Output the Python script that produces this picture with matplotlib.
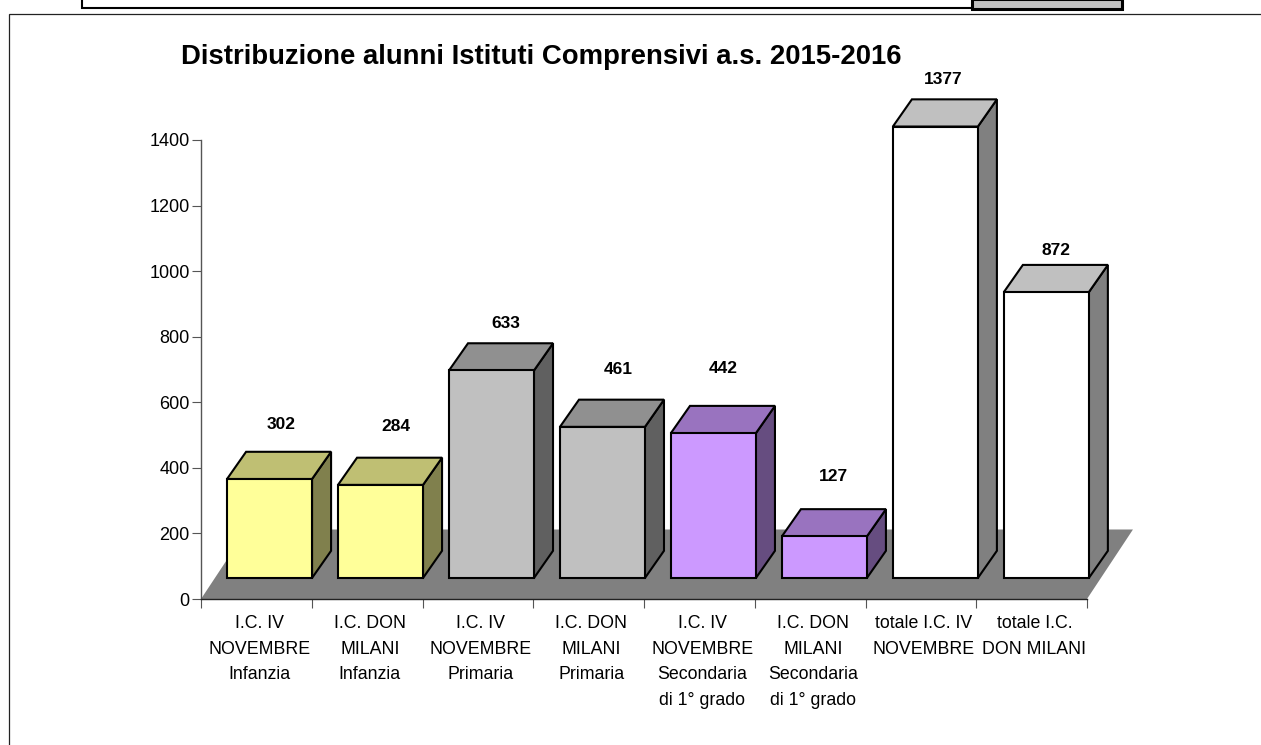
# distribuzione alunni - istogramma finto 3D
import matplotlib.pyplot as plt
from matplotlib.lines import Line2D
from matplotlib.patches import Rectangle

plt.rcParams["font.family"] = ["Liberation Sans", "DejaVu Sans"]

categorie = ["I.C. IV\nNOVEMBRE\nInfanzia", "I.C. DON\nMILANI\nInfanzia",
             "I.C. IV\nNOVEMBRE\nPrimaria", "I.C. DON\nMILANI\nPrimaria",
             "I.C. IV\nNOVEMBRE\nSecondaria\ndi 1° grado",
             "I.C. DON\nMILANI\nSecondaria\ndi 1° grado",
             "totale I.C. IV\nNOVEMBRE", "totale I.C.\nDON MILANI"]
alunni = [302, 284, 633, 461, 442, 127, 1377, 872]
tick_y = [0, 200, 400, 600, 800, 1000, 1200, 1400]

# colori fronte / sopra / lato
fronte = ["#FFFF99", "#FFFF99", "#C0C0C0", "#C0C0C0", "#CC99FF", "#CC99FF", "#FFFFFF", "#FFFFFF"]
sopra = ["#BFBF73", "#BFBF73", "#909090", "#909090", "#9973BF", "#9973BF", "#C0C0C0", "#C0C0C0"]
lato = ["#80804D", "#80804D", "#606060", "#606060", "#664D80", "#664D80", "#808080", "#808080"]
# le etichette nell'originale sono spostate a mano (punti sopra la barra)
etichette_off = [(-5, 20), (-2.7, 22.8), (-3.2, 14.5), (-2.2, 21.6),
                 (-6.8, 27), (-7.2, 23.2), (-7.9, 14.5), (-6.7, 10.3)]

W, H = 1261, 745
fig = plt.figure(figsize=(W / 100, H / 100), dpi=100)
ax = fig.add_axes([201 / W, (H - 599) / H, 886 / W, 459 / H])
ax.set_xlim(0, len(alunni))
ax.set_ylim(0, 1400)

base = 64
margine = 0.235
larg = 0.7675
passo = 1.002
dx, dy = 0.172, 83

# pavimento
ax.fill([0, 8, 8.415, 0.415], [0, 0, 212, 212], color="#808080", lw=0, clip_on=False, zorder=1)

for i, v in enumerate(alunni):
    x0 = i * passo + margine
    x1 = x0 + larg
    y1 = base + v
    stile = dict(edgecolor="black", lw=1.5, joinstyle="miter", clip_on=False, zorder=3 + i)
    ax.fill([x1, x1 + dx, x1 + dx, x1], [base, base + dy, y1 + dy, y1], facecolor=lato[i], **stile)
    ax.fill([x0, x1, x1 + dx, x0 + dx], [y1, y1, y1 + dy, y1 + dy], facecolor=sopra[i], **stile)
    ax.fill([x0, x1, x1, x0], [base, base, y1, y1], facecolor=fronte[i], **stile)
    ax.annotate(str(v), (x0 + larg / 2 + dx, y1 + dy), xytext=etichette_off[i],
                textcoords="offset points", ha="center", va="center",
                fontsize=12.5, fontweight="bold", zorder=20, annotation_clip=False)

for s in ["top", "right"]:
    ax.spines[s].set_visible(False)
ax.spines["left"].set_color("#555555")
ax.spines["left"].set_linewidth(1)
ax.spines["bottom"].set_color("#222222")
ax.spines["bottom"].set_linewidth(1)
ax.patch.set_alpha(0)

ax.set_yticks(tick_y)
ax.tick_params(axis="y", length=6.5, width=0.8, color="#555555", labelsize=13, pad=1.7)
ax.set_xticks(range(len(alunni) + 1))
ax.set_xticklabels([])
ax.tick_params(axis="x", length=6.5, width=0.8, color="#555555")
for i, c in enumerate(categorie):
    ax.annotate(c, (i + 0.5, 0), xytext=(2, -11.5), textcoords="offset points", ha="center", va="top",
                fontsize=12.8, linespacing=1.66, annotation_clip=False)

fig.text(181 / W, 1 - 56.5 / H, "Distribuzione alunni Istituti Comprensivi a.s. 2015-2016",
         fontsize=19.8, fontweight="bold", ha="left", va="center")


# cornici della pagina (coordinate in pixel)
def linea(xs, ys, lw=1.0, col="black"):
    fig.add_artist(Line2D([x / W for x in xs], [1 - y / H for y in ys], lw=lw, color=col,
                          solid_joinstyle="miter"))


linea([8.5, 8.5, W], [H, 13.5, 13.5], lw=0.9, col="#222222")
linea([82, 82, 972], [0, 8, 8], lw=1.5)
fig.add_artist(Rectangle((972 / W, 1 - 9 / H), 150 / W, 10 / H, transform=fig.transFigure,
                         facecolor="#C0C0C0", edgecolor="black", lw=2.2))

fig.savefig("out.png", dpi=100)
